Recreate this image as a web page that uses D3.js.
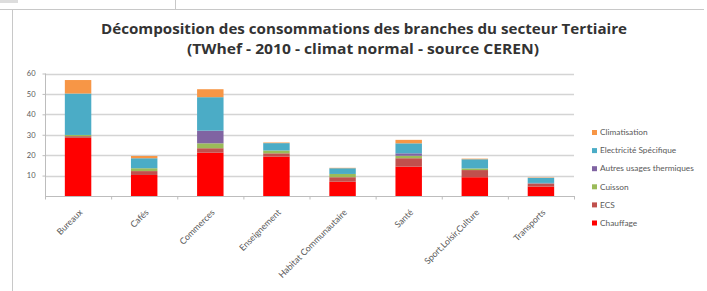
<!DOCTYPE html>
<html><head><meta charset="utf-8">
<script src="https://cdn.jsdelivr.net/npm/d3@7"></script>
<style>body{margin:0;background:#fff}svg{display:block}</style>
</head><body><svg id="c" width="707" height="291"></svg>
<script>
const categories = ["Bureaux","Cafés","Commerces","Enseignement","Habitat Communautaire","Santé","Sport,Loisir,Culture","Transports"];
const seriesNames = ["Chauffage","ECS","Cuisson","Autres usages thermiques","Electricité Spécifique","Climatisation"];
const chauffage = [28.5,10.3,21.2,19.3,7.0,14.4,9.2,4.6];
const ecs       = [0.8,1.9,2.2,1.6,2.2,4.1,3.5,1.3];
const cuisson   = [0.6,1.4,2.4,1.4,1.6,1.2,0.8,0.2];
const autres    = [0,0,6.2,0,0,1.2,0,0.3];
const elec      = [20.3,4.9,16.4,3.6,2.8,4.9,4.5,2.5];
const clim      = [6.6,1.1,3.9,0.3,0.2,1.7,0.3,0.2];
const yTicks = [10,20,30,40,50,60];
const colors = ["#FF0000","#C0504D","#9BBB59","#8064A2","#4BACC6","#F79646"];
const title1 = "Décomposition des consommations des branches du secteur Tertiaire";
const title2 = "(TWhef - 2010 - climat normal - source CEREN)";

const seriesVals = [chauffage,ecs,cuisson,autres,elec,clim];
const rows = categories.map((c,i)=>{const o={cat:c}; seriesNames.forEach((s,j)=>o[s]=seriesVals[j][i]); return o;});
const stacked = d3.stack().keys(seriesNames)(rows);

const svg = d3.select("#c");
// frame lines
svg.append("line").attr("x1",0).attr("x2",704).attr("y1",9.5).attr("y2",9.5).attr("stroke","#c8c8c8");
svg.append("line").attr("x1",12.5).attr("x2",12.5).attr("y1",9.5).attr("y2",291).attr("stroke","#c8c8c8");
svg.append("line").attr("x1",175.5).attr("x2",175.5).attr("y1",0).attr("y2",9.5).attr("stroke","#c8c8c8");
svg.append("rect").attr("x",0).attr("y",0).attr("width",18).attr("height",3).attr("fill","#ddd");

const x = d3.scaleBand().domain(categories).range([45,574]).paddingInner(0.6).paddingOuter(0.3);
const y = d3.scaleLinear().domain([0,60]).range([196,73.5]);

// gridlines
svg.append("g").selectAll("line").data(yTicks).join("line")
  .attr("x1",45).attr("x2",574).attr("y1",d=>Math.round(y(d))+0.5).attr("y2",d=>Math.round(y(d))+0.5)
  .attr("stroke","#d4d4d4").attr("stroke-width",1.3);

// y axis
const ya = svg.append("g").attr("transform","translate(45.5,0)")
  .call(d3.axisLeft(y).tickValues(yTicks).tickSize(3).tickPadding(7).tickFormat(d3.format("d")));
ya.select(".domain").attr("stroke","#bdbdbd").attr("d","M0,"+y(60)+"V"+y(0));
ya.selectAll(".tick line").attr("stroke","#bdbdbd");
ya.selectAll("text").attr("fill","#595959").style("font-family","Lato").style("font-size","7.5px");

// bars
svg.append("g").selectAll("g").data(stacked).join("g").attr("fill",(d,i)=>colors[i])
  .selectAll("rect").data(d=>d).join("rect")
  .attr("x",d=>x(d.data.cat)).attr("width",x.bandwidth())
  .attr("y",d=>y(d[1])).attr("height",d=>Math.max(0,y(d[0])-y(d[1])));

// x axis baseline with ticks at boundaries
svg.append("line").attr("x1",45).attr("x2",574).attr("y1",196.5).attr("y2",196.5).attr("stroke","#bdbdbd");
const bounds = d3.range(categories.length+1).map(i=>45+i*x.step());
svg.append("g").selectAll("line").data(bounds).join("line")
  .attr("x1",d=>d+0.5).attr("x2",d=>d+0.5).attr("y1",196).attr("y2",199.5).attr("stroke","#bdbdbd");

// x labels
svg.append("g").selectAll("text").data(categories).join("text")
  .attr("transform",d=>`translate(${x(d)+x.bandwidth()/2+5},${213}) rotate(-45)`)
  .attr("text-anchor","end").attr("fill","#595959")
  .style("font-family","Lato").style("font-size","8.8px").text(d=>d);

// title
svg.append("text").attr("x",364).attr("y",34).attr("text-anchor","middle")
  .attr("textLength",526).attr("lengthAdjust","spacingAndGlyphs")
  .style("font-family","Open Sans").style("font-weight","bold").style("font-size","13.5px").attr("fill","#333").text(title1);
svg.append("text").attr("x",363).attr("y",54).attr("text-anchor","middle")
  .attr("textLength",352).attr("lengthAdjust","spacingAndGlyphs")
  .style("font-family","Open Sans").style("font-weight","bold").style("font-size","13.5px").attr("fill","#333").text(title2);

// legend
const legOrder = seriesNames.map((s,i)=>({s,c:colors[i]})).reverse();
const lg = svg.append("g").selectAll("g").data(legOrder).join("g")
  .attr("transform",(d,i)=>`translate(592,${132.5+i*18.1})`);
lg.append("rect").attr("x",0).attr("y",-2.5).attr("width",5).attr("height",5).attr("fill",d=>d.c);
lg.append("text").attr("x",8).attr("y",2.7).attr("fill","#595959")
  .style("font-family","Lato").style("font-size","8.3px").text(d=>d.s);
</script></body></html>
